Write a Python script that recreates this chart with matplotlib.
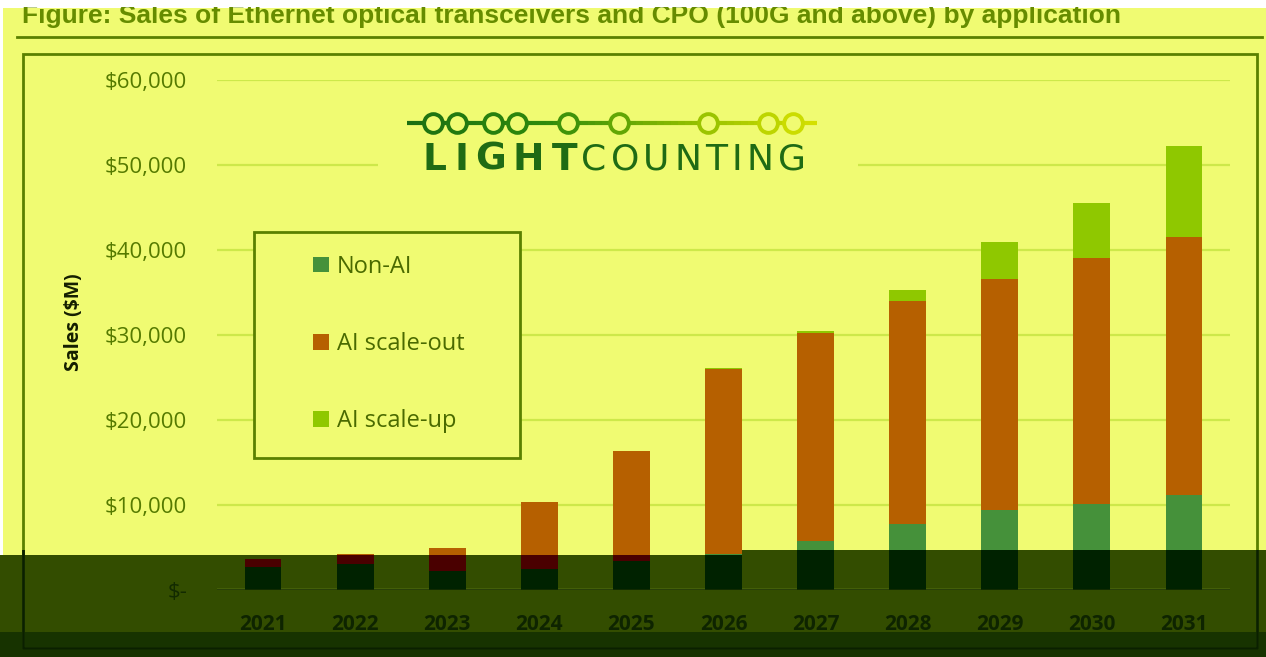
import numpy as np
import matplotlib
matplotlib.use("Agg")
import matplotlib.pyplot as plt
from matplotlib.patches import Rectangle, Polygon
from matplotlib.lines import Line2D
from matplotlib.colors import LinearSegmentedColormap

# Sales ($M)
years = ["2021", "2022", "2023", "2024", "2025", "2026", "2027", "2028", "2029", "2030", "2031"]
non_ai = [2700, 3060, 2240, 2470, 3400, 4200, 5750, 7750, 9400, 10100, 11180]
ai_scale_out = [950, 1180, 2700, 7880, 12900, 21750, 24470, 26250, 27200, 28960, 30350]
ai_scale_up = [0, 0, 0, 50, 80, 150, 250, 1300, 4340, 6440, 10710]
series_names = ["Non-AI", "AI scale-out", "AI scale-up"]
yticks = [0, 10000, 20000, 30000, 40000, 50000, 60000]

title = "Figure: Sales of Ethernet optical transceivers and CPO (100G and above) by application"

W, H = 1266, 657
BG = "#f0fb72"
OLIVE = "#5a8000"
colors = ["#45913a", "#b66000", "#8fc800"]
dark_colors = ["#002200", "#4a0000", "#2a4000"]


def fx(x):
    return x / W


def fy(y):
    return 1 - y / H


fig = plt.figure(figsize=(W / 100, H / 100), dpi=100, facecolor="white")
renderer = fig.canvas.get_renderer()

# page background and the dark band over the bottom
fig.add_artist(Rectangle((fx(3), 0), 1, fy(8), transform=fig.transFigure,
                         facecolor=BG, edgecolor="none", zorder=-10))
band_pts = [(0, 555), (742, 555), (742, 550), (W, 550), (W, 632), (0, 632)]
band = Polygon([(fx(x), fy(y)) for x, y in band_pts], closed=True,
               transform=fig.transFigure, facecolor="#334d00", edgecolor="none", zorder=-5)
fig.add_artist(band)
fig.add_artist(Rectangle((0, 0), 1, fy(632), transform=fig.transFigure,
                         facecolor="#173300", edgecolor="none", zorder=-5))
clip_band = Polygon([(fx(x), fy(y)) for x, y in band_pts], closed=True,
                    transform=fig.transFigure)

ax = fig.add_axes([fx(217), fy(590), fx(1230) - fx(217), fy(80) - fy(590)])
ax.set_facecolor("none")
x = np.arange(len(years))
data = [non_ai, ai_scale_out, ai_scale_up]
bottom = np.zeros(len(years))
handles = []
for vals, c, dc, name in zip(data, colors, dark_colors, series_names):
    b = ax.bar(x, vals, 0.4, bottom=bottom, color=c, label=name, zorder=3)
    handles.append(b)
    bd = ax.bar(x, vals, 0.4, bottom=bottom, color=dc, zorder=4)
    for p in bd.patches:
        p.set_clip_path(clip_band)
    bottom += np.array(vals)

ax.set_xlim(-0.5, 10.5)
ax.set_ylim(0, 60000)
ax.set_yticks(yticks)
ax.set_yticklabels(["$-" if v == 0 else f"${v:,.0f}" for v in yticks],
                   family="Open Sans", fontsize=16, color="#557a00")
ax.get_yticklabels()[0].set_color("#122a00")
ax.set_xticks(x)
ax.set_xticklabels(years, family="Open Sans", fontsize=15, fontweight="bold", color="#0e2400")
ax.tick_params(axis="y", length=0, pad=21.5)
ax.tick_params(axis="x", length=0, pad=17.5)
for s in ax.spines.values():
    s.set_visible(False)
ax.grid(axis="y", color="#cde84a", linewidth=1.6, zorder=0)
ax.axhline(0, color="#142c00", linewidth=2, zorder=5)

# axis title
fig.text(fx(74), fy(322), "Sales ($M)", rotation=90, ha="center", va="center",
         family="Open Sans", fontsize=14, fontweight="bold", color="#141e00")

# figure title and rule
fig.text(fx(22), fy(16), title, ha="left", va="center", family="Liberation Sans",
         fontsize=19, fontweight="bold", color="#668c00", zorder=0.5)
fig.add_artist(Line2D([fx(17), fx(1262)], [fy(37), fy(37)], transform=fig.transFigure,
                      color=OLIVE, linewidth=2))
# white strips at the top and left edge
fig.add_artist(Rectangle((0, fy(7)), 1, 1, transform=fig.transFigure,
                         facecolor="white", edgecolor="none", zorder=10))
fig.add_artist(Rectangle((0, fy(555)), fx(3), 1, transform=fig.transFigure,
                         facecolor="white", edgecolor="none", zorder=10))

# outer chart frame (olive, darkened inside the band)
frame = Rectangle((fx(23), fy(648)), fx(1257) - fx(23), fy(54) - fy(648),
                  transform=fig.transFigure, facecolor="none", edgecolor=OLIVE,
                  linewidth=2, zorder=1)
fig.add_artist(frame)
frame_dark = Rectangle((fx(23), fy(648)), fx(1257) - fx(23), fy(54) - fy(648),
                       transform=fig.transFigure, facecolor="none", edgecolor="#0a2000",
                       linewidth=2, zorder=1.1)
frame_dark.set_clip_path(Rectangle((0, 0), 1, fy(550), transform=fig.transFigure))
fig.add_artist(frame_dark)

# legend with its own box
fig.add_artist(Rectangle((fx(254), fy(458)), fx(520) - fx(254), fy(232) - fy(458),
                         transform=fig.transFigure, facecolor=BG, edgecolor=OLIVE,
                         linewidth=2, zorder=2))
leg = fig.legend(handles=handles, labels=series_names, loc="center",
                 bbox_to_anchor=(fx(389), fy(344)), frameon=False,
                 prop={"family": "Open Sans", "size": 17}, labelcolor="#4a6a00",
                 handlelength=0.65, handleheight=0.65, handletextpad=0.35,
                 labelspacing=2.25, borderpad=0)
leg.set_zorder(3)

# logo
fig.add_artist(Rectangle((fx(378), fy(190)), fx(858) - fx(378), fy(98) - fy(190),
                         transform=fig.transFigure, facecolor=BG, edgecolor="none", zorder=2))
logo_cmap = LinearSegmentedColormap.from_list("logo", ["#1b6f12", "#2f8a0c", "#8cbc00", "#d8e200"])
line_x = np.linspace(407, 817, 60)
for x0, x1 in zip(line_x[:-1], line_x[1:]):
    fig.add_artist(Line2D([fx(x0), fx(x1)], [fy(123), fy(123)], transform=fig.transFigure,
                          color=logo_cmap((x0 - 407) / 410), linewidth=3, zorder=3,
                          solid_capstyle="butt"))
circle_x = [433, 457, 493, 517, 568, 619, 708, 768, 793]
for cx in circle_x:
    fig.add_artist(Line2D([fx(cx)], [fy(123)], transform=fig.transFigure, marker="o",
                          markersize=13.5, markerfacecolor=BG,
                          markeredgecolor=logo_cmap((cx - 407) / 410),
                          markeredgewidth=2.8, zorder=4))


def spaced_word(word, x_start, x_end, weight, size):
    # place letters one by one, spreading them to fill the span like the logo
    texts = [fig.text(0, fy(160), ch, ha="left", va="center", family="DejaVu Sans",
                      fontsize=size, fontweight=weight, color="#1f6b14", zorder=4)
             for ch in word]
    widths = [t.get_window_extent(renderer).width for t in texts]
    gap = (x_end - x_start - sum(widths)) / (len(word) - 1)
    pos = x_start
    for t, w in zip(texts, widths):
        t.set_x(fx(pos))
        pos += w + gap


spaced_word("LIGHT", 423, 577, "bold", 27)
spaced_word("COUNTING", 581, 806, "normal", 26)

fig.savefig("out.png", dpi=100, facecolor="white")
